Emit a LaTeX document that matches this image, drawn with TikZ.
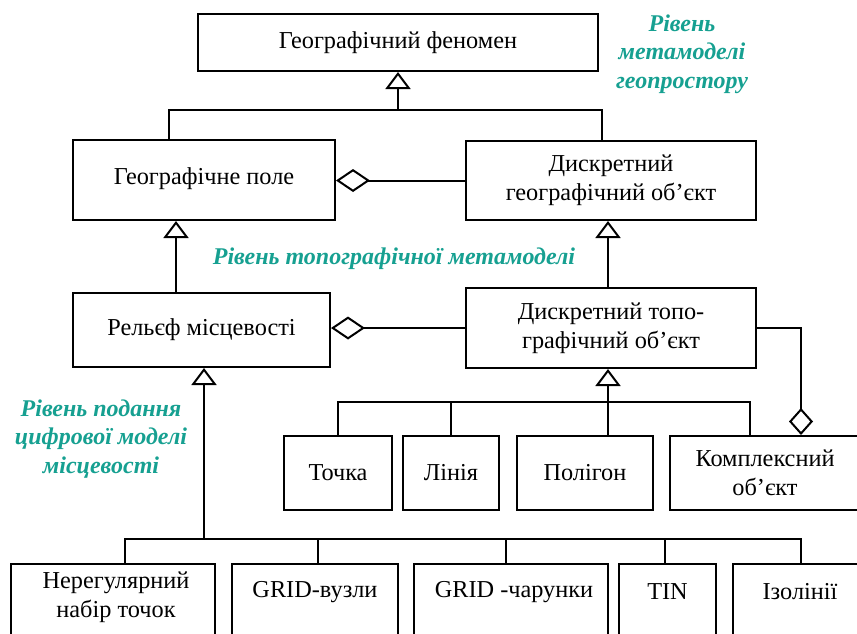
\documentclass[tikz,border=0pt]{standalone}
\usepackage{fontspec}
\setmainfont{Liberation Serif}
\usetikzlibrary{arrows.meta,positioning}
\definecolor{levelteal}{RGB}{22,160,145}
\tikzset{
	box/.style={draw, rectangle, line width=2pt, inner sep=0pt, align=center, font=\fontsize{24.3}{29}\selectfont},
	leaftext/.style={inner sep=0pt, align=center, font=\fontsize{24.3}{29}\selectfont},
	conn/.style={line width=2pt},
	gen/.style={conn, -{Triangle[open, length=17pt, width=25pt]}},
	aggr/.style={conn, -{Diamond[open, length=34pt, width=23pt]}},
	level/.style={text=levelteal, align=center, font=\fontsize{24}{28.5}\selectfont\bfseries\itshape},
}

\begin{document}
\begin{tikzpicture}[x=1pt, y=-1pt]
			%%%%% START %%%%%
			\useasboundingbox (0, 0) rectangle (857, 633);
			
			% upper levels
			\node[box, minimum width=400pt, minimum height=57pt] (phen) at (398, 42.5) {Географічний феномен};
			\node[box, minimum width=262pt, minimum height=80pt, text depth=8pt] (field) at (204, 180) {Географічне поле};
			\node[box, minimum width=290pt, minimum height=79pt] (discr) at (611, 180.5) {Дискретний\\географічний об’єкт};
			\node[box, minimum width=257pt, minimum height=74pt] (relief) at (201.5, 330) {Рельєф місцевості};
			\node[box, minimum width=290pt, minimum height=80pt] (topo) at (611, 328) {Дискретний топо-\\графічний об’єкт};
			
			% topographic objects
			\node[box, minimum width=108pt, minimum height=74pt] (point) at (338, 473) {Точка};
			\node[box, minimum width=96pt, minimum height=74pt] (linia) at (451, 473) {Лінія};
			\node[box, minimum width=136pt, minimum height=74pt] (polygon) at (585, 473) {Полігон};
			\node[box, minimum width=190pt, minimum height=74pt] (complex) at (765, 473) {Комплексний\\об’єкт};
			
			% DEM row (boxes run off the page)
			\node[box, minimum width=204pt, minimum height=90pt, anchor=north] (irreg) at (113, 563) {};
			\node[box, minimum width=166pt, minimum height=90pt, anchor=north] (gridn) at (315, 563) {};
			\node[box, minimum width=194pt, minimum height=90pt, anchor=north] (gridc) at (511, 563) {};
			\node[box, minimum width=97pt, minimum height=90pt, anchor=north] (tin) at (667.5, 563) {};
			\node[box, minimum width=129pt, minimum height=90pt, anchor=north] (iso) at (797.5, 563) {};
			\node[leaftext] (irregtxt) at ([xshift=3pt, yshift=-34.5pt]irreg.north) {Нерегулярний\\набір точок};
			\node[leaftext] (gridntxt) at ([yshift=-29pt]gridn.north) {GRID-вузли};
			\node[leaftext] (gridctxt) at ([xshift=3pt, yshift=-29pt]gridc.north) {GRID -чарунки};
			\node[leaftext] (tintxt) at ([yshift=-29pt]tin.north) {TIN};
			\node[leaftext] (isotxt) at ([xshift=2.5pt, yshift=-29pt]iso.north) {Ізолінії};
			
			% level captions
			\node[level] (lvlgeo) at (682, 54) {Рівень\\метамоделі\\геопростору};
			\node[level] (lvltopo) at (394, 259) {Рівень топографічної метамоделі};
			\node[level] (lvldem) at (101, 439) {Рівень подання\\цифрової моделі\\місцевості};
			
			% helper columns and buses
			\coordinate (c1) at (176, 0);
			\coordinate (c2) at (608, 0);
			\coordinate (bus1) at (398, 110);
			\coordinate (bus2) at (608, 402);
			\coordinate (bus3) at (204, 539);
			
			% generalisation
			\draw[gen] (bus1) -- (phen.south);
			\draw[conn] ([xshift=97pt]field.north west) |- (bus1) -| ([xshift=-9pt]discr.north);
			\draw[gen] (relief.north -| c1) -- (field.south -| c1);
			\draw[gen] (topo.north -| c2) -- (discr.south -| c2);
			\draw[gen] (polygon.north -| c2) -- (topo.south -| c2);
			\draw[conn] (point.north) |- (bus2) -| ([xshift=-15pt]complex.north);
			\draw[conn] (linia.north) -- (linia.north |- bus2);
			\draw[gen] (bus3) -- (relief.south -| bus3);
			\draw[conn] ([xshift=12pt]irreg.north) |- (bus3) -| ([xshift=3.5pt]iso.north);
			\foreach \n/\dx in {gridn/3, gridc/-5, tin/-2.5}
				\draw[conn] ([xshift=\dx pt]\n.north) -- ([xshift=\dx pt]\n.north |- bus3);
			
			% aggregation
			\draw[aggr] (discr.west) -- (discr.west -| field.east);
			\draw[aggr] (topo.west) -- (topo.west -| relief.east);
			\draw[conn, -{Diamond[open, length=27pt, width=24pt]}] (topo.east) -| ([xshift=36pt]complex.north);
			
			%%%%% END %%%%%
\end{tikzpicture}
\end{document}
